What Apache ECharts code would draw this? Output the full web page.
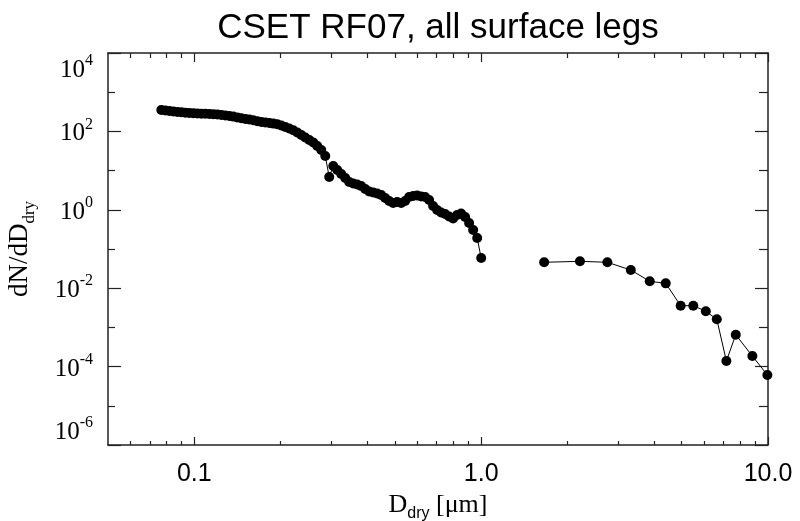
<!DOCTYPE html>
<html>
<head>
<meta charset="UTF-8">
<title>CSET RF07, all surface legs</title>
<script src="https://cdn.jsdelivr.net/npm/echarts@6/dist/echarts.min.js"></script>
<style>
html,body{margin:0;padding:0;background:#fff;}
#chart{width:800px;height:521px;}
</style>
</head>
<body>
<div id="chart"></div>
<script>
// UHSAS-like small mode (diameter um, dN/dD)
var diamSmall = [0.0767,0.0792,0.0818,0.0845,0.0873,0.0901,0.0930,0.0960,0.0992,0.1024,
  0.1058,0.1092,0.1128,0.1165,0.1203,0.1242,0.1282,0.1324,0.1367,0.1412,
  0.1458,0.1506,0.1555,0.1605,0.1658,0.1712,0.1768,0.1825,0.1885,0.1946,
  0.2010,0.2075,0.2143,0.2213,0.2285,0.2360,0.2436,0.2516,0.2598,0.2682,
  0.2770,0.2860,0.2953,0.3050,0.3149,0.3252,0.3358,0.3467,0.3580,0.3697,
  0.3817,0.3942,0.4070,0.4203,0.4340,0.4481,0.4627,0.4778,0.4934,0.5095,
  0.5261,0.5432,0.5609,0.5792,0.5981,0.6176,0.6377,0.6585,0.6800,0.7022,
  0.7250,0.7487,0.7731,0.7983,0.8244,0.8512,0.8790,0.9077,0.9377,0.9685,1.0000];
var dndSmall = [351.5,341.4,331.5,321.9,312.6,307.1,299.9,294.7,289.5,286.2,
  282.8,281.2,277.9,274.7,269.9,262.0,254.4,247.2,238.6,227.6,
  217.1,207.2,201.2,192.0,182.0,173.7,168.7,163.8,158.1,151.8,
  141.5,129.5,118.6,106.7,93.7,80.9,69.9,60.3,52.1,42.4,
  33.5,23.6,6.87,13.1,10.4,8.19,6.48,5.12,4.69,4.42,
  4.05,3.39,2.93,2.76,2.60,2.39,2.00,1.68,1.49,1.58,
  1.49,1.68,2.12,2.25,2.32,2.18,2.12,1.78,1.25,0.988,
  0.853,0.781,0.675,0.600,0.737,0.805,0.655,0.461,0.305,0.191,0.0589];
// coarse mode
var diamLarge = [1.658,2.21,2.754,3.324,3.87,4.40,4.96,5.49,6.07,6.63,7.16,7.72,8.82,9.95];
var dndLarge = [0.0458,0.0485,0.0458,0.0291,0.0150,0.0133,0.00358,0.00358,0.00258,0.00161,
  0.000139,0.00065,0.000186,0.000061];

var xMajor = [0.1, 1, 10];
var xMajorLabels = ['0.1', '1.0', '10.0'];
var xMinor = [0.06,0.07,0.08,0.09,0.2,0.3,0.4,0.5,0.6,0.7,0.8,0.9,2,3,4,5,6,7,8,9];
var yMajor = [1e-6, 1e-4, 1e-2, 1, 1e2, 1e4];
var yMinor = [1e-5, 1e-3, 1e-1, 10, 1e3];

var chart = echarts.init(document.getElementById('chart'));
var ink = '#222';
var gridBox = {left: 108, right: 32, top: 53, bottom: 76, containLabel: false, outerBoundsMode: 'none'};

function pairs(xs, ys) {
  return xs.map(function (x, i) { return [x, ys[i]]; });
}

function xAx(grid, pos, vals, len, line, labels) {
  return {
    type: 'log', gridIndex: grid, position: pos, min: 0.05, max: 10,
    axisLine: {show: line, lineStyle: {color: ink, width: 1.5}},
    axisTick: {show: true, inside: true, length: len, customValues: vals, lineStyle: {color: ink, width: 1.2}},
    axisLabel: labels ? {
      customValues: xMajor, margin: 17,
      fontFamily: 'Liberation Sans', fontSize: 25, color: '#000',
      formatter: function (v) { return xMajorLabels[xMajor.indexOf(v)] || String(v); }
    } : {show: false},
    splitLine: {show: false},
    minorTick: {show: false}
  };
}

function yAx(grid, pos, vals, len, line, labels) {
  return {
    type: 'log', gridIndex: grid, position: pos, min: 1e-6, max: 1e4,
    axisLine: {show: line, lineStyle: {color: ink, width: 1.5}},
    axisTick: {show: true, inside: true, length: len, customValues: vals, lineStyle: {color: ink, width: 1.2}},
    axisLabel: labels ? {
      customValues: yMajor, margin: 15,
      verticalAlignMinLabel: 'bottom', verticalAlignMaxLabel: 'top',
      formatter: function (v) { return '{b|10}{s|' + Math.round(Math.log10(v)) + '}'; },
      rich: {
        b: {fontFamily: 'Liberation Serif', fontSize: 25, color: '#000', lineHeight: 30, verticalAlign: 'bottom'},
        s: {fontFamily: 'Liberation Serif', fontSize: 16, color: '#000', lineHeight: 30, verticalAlign: 'top'}
      }
    } : {show: false},
    splitLine: {show: false},
    minorTick: {show: false}
  };
}

var option = {
  animation: false,
  backgroundColor: '#fff',
  grid: [gridBox, gridBox],
  graphic: [{
    type: 'text', x: 438, y: 46,
    style: {text: 'CSET RF07, all surface legs', fontFamily: 'Liberation Sans', fontSize: 35,
      fill: '#000', align: 'center', verticalAlign: 'bottom'}
  }],
  xAxis: [
    Object.assign(xAx(0, 'bottom', xMajor, 8, true, true), {
      name: '{d|D}{u|dry}{d| [\u03bcm]}', nameLocation: 'middle', nameGap: 43,
      nameTextStyle: {rich: {
        d: {fontFamily: 'Liberation Serif', fontSize: 26, color: '#000', lineHeight: 30, verticalAlign: 'top'},
        u: {fontFamily: 'Liberation Sans', fontSize: 16, color: '#000', lineHeight: 30, verticalAlign: 'bottom'}
      }}
    }),
    xAx(0, 'top', xMajor, 9, true, false),
    xAx(1, 'bottom', xMinor, 4, false, false),
    xAx(1, 'top', xMinor, 5, false, false)
  ],
  yAxis: [
    Object.assign(yAx(0, 'left', yMajor, 13, true, true), {
      name: '{a|dN/dD}{b|dry}', nameLocation: 'middle', nameGap: 70,
      nameTextStyle: {rich: {
        a: {fontFamily: 'Liberation Serif', fontSize: 27, color: '#000', lineHeight: 32, verticalAlign: 'top'},
        b: {fontFamily: 'Liberation Serif', fontSize: 17, color: '#000', lineHeight: 32, verticalAlign: 'bottom'}
      }}
    }),
    yAx(0, 'right', yMajor, 13, true, false),
    yAx(1, 'left', yMinor, 7, false, false),
    yAx(1, 'right', yMinor, 9, false, false)
  ],
  series: [
    {
      type: 'line', xAxisIndex: 0, yAxisIndex: 0,
      data: pairs(diamSmall, dndSmall),
      symbol: 'circle', symbolSize: 10, showAllSymbol: true,
      itemStyle: {color: '#000'}, lineStyle: {color: '#000', width: 1}
    },
    {
      type: 'line', xAxisIndex: 0, yAxisIndex: 0,
      data: pairs(diamLarge, dndLarge),
      symbol: 'circle', symbolSize: 10, showAllSymbol: true,
      itemStyle: {color: '#000'}, lineStyle: {color: '#000', width: 1}
    }
  ]
};
chart.setOption(option);
</script>
</body>
</html>
